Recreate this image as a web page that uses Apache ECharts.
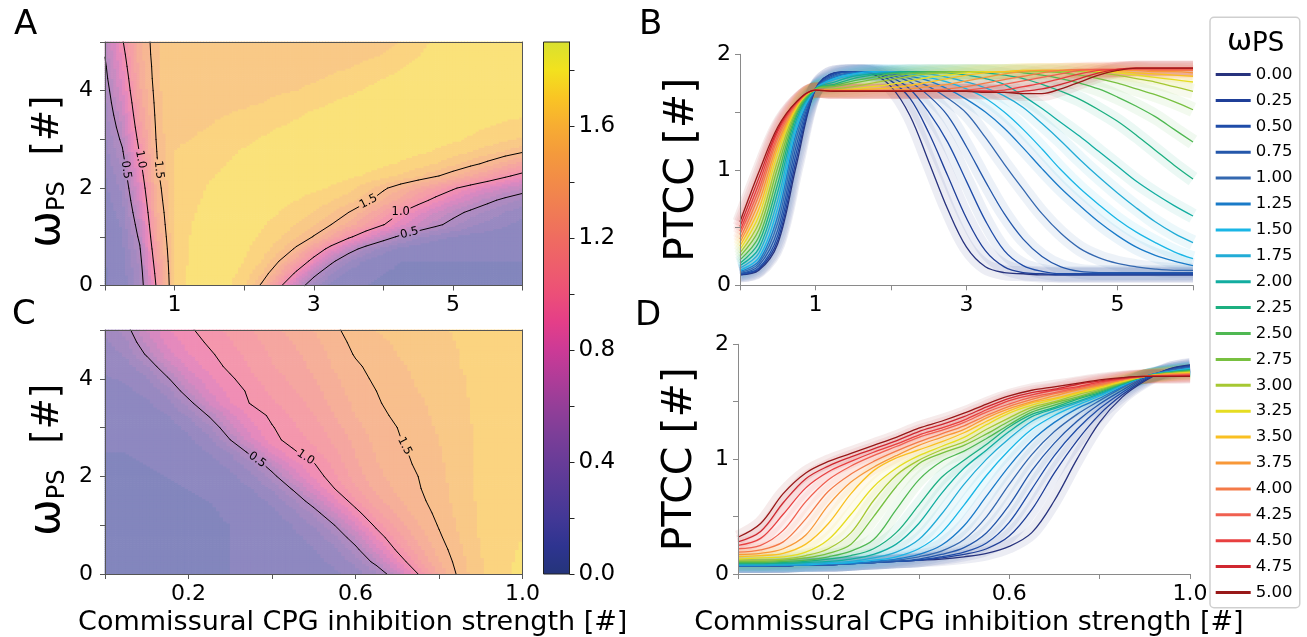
<!DOCTYPE html>
<html><head><meta charset="utf-8">
<script src="https://cdn.jsdelivr.net/npm/echarts@6/dist/echarts.min.js"></script>
<style>html,body{margin:0;padding:0;background:#fff}#c{width:1307px;height:637px}</style>
</head><body><div id="c"></div>
<script>
// ---------------- DATA ----------------
const omegas = [0,0.25,0.5,0.75,1,1.25,1.5,1.75,2,2.25,2.5,2.75,3,3.25,3.5,3.75,4,4.25,4.5,4.75,5];
const omegaLabels = ['0.00','0.25','0.50','0.75','1.00','1.25','1.50','1.75','2.00','2.25','2.50','2.75','3.00','3.25','3.50','3.75','4.00','4.25','4.50','4.75','5.00'];
const xB = [0,0.25,0.5,0.75,1,1.25,1.5,1.75,2,2.25,2.5,2.75,3,3.25,3.5,3.75,4,4.25,4.5,4.75,5,5.25,5.5,5.75,6];
const xD = [0,0.05,0.1,0.15,0.2,0.25,0.3,0.35,0.4,0.45,0.5,0.55,0.6,0.65,0.7,0.75,0.8,0.85,0.9,0.95,1];
// PTCC, panel B / A (rows = omega, cols = xB)
const ptccB = [
[0.09,0.13,0.36,1.05,1.70,1.84,1.85,1.83,1.72,1.47,1.07,0.66,0.33,0.16,0.11,0.10,0.09,0.09,0.09,0.09,0.09,0.09,0.09,0.09,0.09],
[0.09,0.14,0.39,1.10,1.70,1.84,1.85,1.84,1.77,1.62,1.32,0.95,0.58,0.30,0.16,0.11,0.10,0.09,0.09,0.09,0.09,0.09,0.09,0.09,0.09],
[0.10,0.15,0.43,1.16,1.70,1.83,1.85,1.84,1.80,1.70,1.50,1.24,0.90,0.56,0.30,0.17,0.12,0.10,0.10,0.10,0.10,0.10,0.10,0.10,0.10],
[0.10,0.17,0.48,1.22,1.70,1.82,1.85,1.85,1.82,1.76,1.64,1.47,1.20,0.90,0.62,0.40,0.25,0.16,0.12,0.11,0.11,0.11,0.11,0.11,0.11],
[0.11,0.19,0.54,1.28,1.70,1.81,1.84,1.85,1.83,1.79,1.72,1.62,1.49,1.28,1.05,0.83,0.62,0.45,0.32,0.24,0.19,0.16,0.14,0.13,0.13],
[0.12,0.21,0.60,1.33,1.70,1.80,1.84,1.85,1.84,1.81,1.77,1.70,1.61,1.50,1.36,1.19,1.01,0.84,0.69,0.55,0.43,0.33,0.26,0.21,0.17],
[0.13,0.24,0.67,1.37,1.70,1.79,1.83,1.85,1.85,1.83,1.80,1.76,1.70,1.62,1.50,1.35,1.18,1.00,0.84,0.70,0.57,0.46,0.37,0.29,0.23],
[0.15,0.28,0.74,1.41,1.70,1.78,1.82,1.84,1.85,1.85,1.83,1.80,1.76,1.71,1.64,1.54,1.40,1.25,1.09,0.94,0.80,0.67,0.55,0.45,0.37],
[0.17,0.32,0.81,1.44,1.70,1.76,1.81,1.83,1.84,1.85,1.85,1.84,1.82,1.79,1.74,1.64,1.53,1.41,1.29,1.16,1.03,0.90,0.79,0.69,0.60],
[0.19,0.37,0.88,1.47,1.70,1.74,1.79,1.82,1.84,1.85,1.85,1.85,1.85,1.84,1.82,1.79,1.74,1.68,1.61,1.52,1.42,1.30,1.17,1.04,0.92],
[0.22,0.42,0.95,1.49,1.70,1.73,1.77,1.80,1.83,1.84,1.85,1.85,1.85,1.85,1.85,1.84,1.82,1.79,1.75,1.70,1.63,1.55,1.46,1.35,1.24],
[0.25,0.48,1.02,1.51,1.70,1.72,1.75,1.78,1.81,1.83,1.84,1.85,1.85,1.85,1.85,1.85,1.85,1.84,1.82,1.79,1.75,1.70,1.65,1.59,1.52],
[0.28,0.54,1.08,1.53,1.69,1.70,1.72,1.75,1.78,1.81,1.83,1.84,1.85,1.85,1.85,1.85,1.85,1.85,1.85,1.84,1.82,1.79,1.76,1.72,1.68],
[0.31,0.60,1.14,1.54,1.69,1.69,1.70,1.72,1.74,1.77,1.80,1.82,1.84,1.85,1.85,1.86,1.86,1.86,1.86,1.85,1.84,1.82,1.80,1.78,1.76],
[0.34,0.66,1.19,1.55,1.69,1.69,1.69,1.70,1.71,1.73,1.76,1.79,1.82,1.84,1.85,1.86,1.86,1.86,1.86,1.86,1.85,1.84,1.83,1.82,1.81],
[0.37,0.72,1.23,1.56,1.69,1.69,1.69,1.69,1.69,1.70,1.72,1.74,1.77,1.80,1.83,1.85,1.86,1.86,1.86,1.86,1.86,1.86,1.85,1.85,1.84],
[0.40,0.78,1.27,1.57,1.69,1.69,1.68,1.68,1.68,1.68,1.69,1.70,1.72,1.75,1.78,1.81,1.84,1.86,1.87,1.87,1.87,1.87,1.86,1.86,1.86],
[0.44,0.83,1.30,1.58,1.69,1.68,1.68,1.68,1.68,1.68,1.68,1.68,1.69,1.71,1.74,1.77,1.80,1.83,1.86,1.87,1.87,1.87,1.87,1.87,1.87],
[0.47,0.88,1.33,1.58,1.69,1.68,1.68,1.68,1.68,1.68,1.68,1.68,1.68,1.68,1.69,1.72,1.75,1.79,1.83,1.86,1.87,1.88,1.88,1.88,1.88],
[0.51,0.93,1.35,1.59,1.69,1.68,1.68,1.68,1.68,1.68,1.68,1.68,1.68,1.68,1.67,1.68,1.70,1.74,1.79,1.84,1.87,1.88,1.88,1.88,1.88],
[0.55,0.98,1.37,1.59,1.69,1.68,1.68,1.68,1.68,1.68,1.68,1.68,1.68,1.67,1.67,1.66,1.66,1.70,1.76,1.82,1.86,1.88,1.88,1.88,1.88]
];
// PTCC, panel D / C (rows = omega, cols = xD)
const ptccD = [
[0.07,0.07,0.07,0.08,0.08,0.09,0.10,0.11,0.12,0.13,0.15,0.18,0.24,0.36,0.64,1.00,1.32,1.54,1.68,1.78,1.82],
[0.07,0.07,0.07,0.08,0.08,0.09,0.10,0.11,0.12,0.14,0.17,0.22,0.33,0.56,0.88,1.16,1.39,1.56,1.69,1.78,1.815],
[0.07,0.07,0.07,0.08,0.08,0.09,0.10,0.11,0.12,0.15,0.19,0.27,0.45,0.74,1.03,1.26,1.44,1.58,1.70,1.77,1.81],
[0.07,0.07,0.07,0.08,0.08,0.09,0.10,0.11,0.13,0.17,0.23,0.36,0.60,0.90,1.14,1.33,1.48,1.60,1.71,1.77,1.80],
[0.07,0.07,0.07,0.08,0.08,0.09,0.10,0.12,0.15,0.20,0.30,0.50,0.78,1.04,1.24,1.39,1.51,1.62,1.72,1.77,1.80],
[0.07,0.07,0.08,0.08,0.09,0.09,0.11,0.13,0.17,0.25,0.42,0.68,0.94,1.16,1.32,1.44,1.53,1.63,1.72,1.76,1.79],
[0.08,0.08,0.08,0.08,0.09,0.10,0.12,0.15,0.22,0.36,0.60,0.86,1.08,1.26,1.38,1.47,1.55,1.64,1.72,1.76,1.79],
[0.08,0.08,0.08,0.09,0.10,0.11,0.14,0.19,0.30,0.52,0.78,1.00,1.18,1.33,1.42,1.49,1.56,1.645,1.72,1.76,1.785],
[0.09,0.09,0.09,0.10,0.11,0.13,0.17,0.26,0.44,0.70,0.92,1.08,1.24,1.37,1.44,1.50,1.57,1.65,1.72,1.755,1.78],
[0.09,0.09,0.10,0.11,0.13,0.16,0.22,0.36,0.60,0.84,0.99,1.13,1.28,1.39,1.45,1.52,1.58,1.655,1.72,1.75,1.775],
[0.10,0.10,0.11,0.12,0.15,0.20,0.30,0.56,0.82,0.98,1.07,1.18,1.30,1.41,1.47,1.53,1.59,1.66,1.72,1.75,1.77],
[0.11,0.11,0.12,0.14,0.18,0.26,0.50,0.76,0.96,1.05,1.12,1.22,1.33,1.43,1.49,1.54,1.60,1.665,1.72,1.75,1.765],
[0.12,0.12,0.13,0.16,0.22,0.36,0.64,0.86,0.99,1.08,1.15,1.26,1.36,1.45,1.50,1.56,1.61,1.67,1.72,1.74,1.76],
[0.13,0.14,0.15,0.19,0.30,0.52,0.76,0.92,1.03,1.11,1.19,1.30,1.40,1.47,1.52,1.57,1.62,1.675,1.72,1.74,1.755],
[0.15,0.16,0.18,0.26,0.44,0.70,0.90,1.01,1.08,1.15,1.23,1.33,1.42,1.49,1.53,1.58,1.63,1.68,1.72,1.74,1.75],
[0.17,0.18,0.22,0.34,0.60,0.80,0.93,1.03,1.12,1.19,1.26,1.36,1.44,1.50,1.55,1.60,1.64,1.69,1.72,1.74,1.745],
[0.19,0.21,0.28,0.48,0.72,0.87,0.98,1.07,1.15,1.22,1.29,1.38,1.46,1.52,1.57,1.61,1.65,1.69,1.72,1.73,1.74],
[0.22,0.25,0.38,0.63,0.82,0.94,1.03,1.11,1.19,1.25,1.32,1.41,1.48,1.54,1.58,1.62,1.66,1.70,1.72,1.73,1.735],
[0.25,0.31,0.52,0.75,0.89,0.98,1.06,1.13,1.21,1.27,1.34,1.43,1.51,1.56,1.60,1.63,1.67,1.70,1.72,1.725,1.73],
[0.28,0.37,0.62,0.83,0.94,1.02,1.09,1.16,1.24,1.30,1.37,1.455,1.53,1.58,1.61,1.65,1.68,1.705,1.72,1.72,1.725],
[0.32,0.44,0.70,0.88,0.98,1.05,1.12,1.19,1.27,1.33,1.40,1.48,1.55,1.60,1.63,1.66,1.69,1.71,1.72,1.72,1.72]
];
const contourLevels = [0.5, 1.0, 1.5];
// tick labels
const xLabelsA = [1,3,5];
const yLabelsA = [0,2,4];
const xLabelsC = [0.2,0.6,1.0];
const yLabelsB = [0,1,2];
const cbLabels = [0.0,0.4,0.8,1.2,1.6];
const cbTicks = [0,0.2,0.4,0.6,0.8,1.0,1.2,1.4,1.6,1.8];
const xTitle = 'Commissural CPG inhibition strength [#]';

// ---------------- STYLE ----------------
const FONT = 'DejaVu Sans';
const lineColors = ['#28337e','#1f3f98','#1f4ca8','#2457aa','#3468b0','#1a7bc8','#1ab6e6','#22acd6','#12ada0','#1caf80','#4fb852','#78c040','#a6c833','#e6dd22','#f9c022','#f89838','#f47a48','#f06050','#e84040','#d02830','#981818'];
const cbStops = ['#24347a','#2e3490','#423896','#553a97','#683c98','#7c3e98','#943e98','#b03c98','#cc3a96','#e43e88','#ec4f78','#ee5e6c','#ef6c60','#f07c54','#f28b48','#f49a3c','#f7ad32','#f9c524','#f2e21e','#d8e030'];
const CB_MAX = 1.9;
const HEAT_ALPHA = 0.6, LEVEL_STEP = 0.1, SUB = 6, LABEL_GAP = 11;
const HEAT_OFFSET = 0.07, HEAT_SCALE = 0.9;

function hex2rgb(h){return [parseInt(h.slice(1,3),16),parseInt(h.slice(3,5),16),parseInt(h.slice(5,7),16)];}
const cbRGB = cbStops.map(hex2rgb);
function cmapRGB(v){const n=cbRGB.length-1;const t=Math.max(0,Math.min(1,v/CB_MAX))*n;const i=Math.min(n-1,Math.floor(t));const f=t-i;const a=cbRGB[i],b=cbRGB[i+1];return [0,1,2].map(k=>a[k]+(b[k]-a[k])*f);}
const heatCache={};
function heatColor(v){const k=Math.floor(v/LEVEL_STEP+1e-9);if(heatCache[k])return heatCache[k];const c=cmapRGB(HEAT_OFFSET+HEAT_SCALE*(k+0.5)*LEVEL_STEP);const m=c.map(x=>Math.round(x*HEAT_ALPHA+255*(1-HEAT_ALPHA)));return heatCache[k]='rgb('+m.join(',')+')';}

function buildCells(xs,ys,g){const out=[];for(let r=0;r<ys.length-1;r++)for(let i=0;i<xs.length-1;i++)out.push([xs[i],ys[r],xs[i+1],ys[r+1],g[r][i],g[r][i+1],g[r+1][i],g[r+1][i+1]]);return out;}
function renderHeat(params,api){
  const x0=api.value(0),y0=api.value(1),x1=api.value(2),y1=api.value(3);
  const v00=api.value(4),v10=api.value(5),v01=api.value(6),v11=api.value(7);
  const p0=api.coord([x0,y0]),p1=api.coord([x1,y1]);
  const w=(p1[0]-p0[0])/SUB,h=(p0[1]-p1[1])/SUB;const ch=[];
  for(let a=0;a<SUB;a++)for(let b=0;b<SUB;b++){
    const u=(a+0.5)/SUB,t=(b+0.5)/SUB;
    const v=v00*(1-u)*(1-t)+v10*u*(1-t)+v01*(1-u)*t+v11*u*t;
    ch.push({type:'rect',shape:{x:p0[0]+a*w-0.35,y:p0[1]-(b+1)*h-0.35,width:w+0.7,height:h+0.7},style:{fill:heatColor(v)}});
  }
  return {type:'group',children:ch};
}
function buildContours(xs,ys,g,levels){
  const segs=[];
  levels.forEach(L=>{
    for(let r=0;r<ys.length-1;r++)for(let i=0;i<xs.length-1;i++){
      const v=[g[r][i],g[r][i+1],g[r+1][i+1],g[r+1][i]];
      const P=[[xs[i],ys[r]],[xs[i+1],ys[r]],[xs[i+1],ys[r+1]],[xs[i],ys[r+1]]];
      const pts=[];
      for(let e=0;e<4;e++){const a=e,b=(e+1)%4;if((v[a]>=L)!==(v[b]>=L)){const t=(L-v[a])/(v[b]-v[a]);pts.push([P[a][0]+t*(P[b][0]-P[a][0]),P[a][1]+t*(P[b][1]-P[a][1])]);}}
      if(pts.length===2)segs.push([pts[0][0],pts[0][1],pts[1][0],pts[1][1],L]);
      else if(pts.length===4){const c=(v[0]+v[1]+v[2]+v[3])/4;
        if((c>=L)===(v[0]>=L)){segs.push([pts[0][0],pts[0][1],pts[1][0],pts[1][1],L]);segs.push([pts[2][0],pts[2][1],pts[3][0],pts[3][1],L]);}
        else{segs.push([pts[0][0],pts[0][1],pts[3][0],pts[3][1],L]);segs.push([pts[1][0],pts[1][1],pts[2][0],pts[2][1],L]);}}
    }
  });
  return segs;
}
function placeLabels(segs,anchors,sx,sy){
  return anchors.map(a=>{let best=null,bd=1e18;segs.forEach(s=>{if(s[4]!==a[2])return;const mx=(s[0]+s[2])/2,my=(s[1]+s[3])/2;const d=((mx-a[0])*sx)**2+((my-a[1])*sy)**2;if(d<bd){bd=d;best=s;}});
    return [(best[0]+best[2])/2,(best[1]+best[3])/2,best[2]-best[0],best[3]-best[1],a[2]];});
}
function makeSegRender(labels){
  return function(params,api){
    const p=api.coord([api.value(0),api.value(1)]),q=api.coord([api.value(2),api.value(3)]);const lvl=api.value(4);
    const dx=q[0]-p[0],dy=q[1]-p[1];let pieces=[[0,1]];
    labels.forEach(l=>{if(Math.abs(l[4]-lvl)>1e-6)return;const c=api.coord([l[0],l[1]]);
      const fx=p[0]-c[0],fy=p[1]-c[1];const A=dx*dx+dy*dy;if(A<1e-9)return;const B=2*(fx*dx+fy*dy);const C=fx*fx+fy*fy-LABEL_GAP*LABEL_GAP;const disc=B*B-4*A*C;if(disc<=0)return;
      const s=Math.sqrt(disc);const t1=(-B-s)/(2*A),t2=(-B+s)/(2*A);
      pieces=pieces.flatMap(([a,b])=>{const res=[];if(t1>a)res.push([a,Math.min(b,t1)]);if(t2<b)res.push([Math.max(a,t2),b]);return res.filter(r=>r[1]>r[0]);});});
    return {type:'group',children:pieces.map(([a,b])=>({type:'line',shape:{x1:p[0]+dx*a,y1:p[1]+dy*a,x2:p[0]+dx*b,y2:p[1]+dy*b},style:{stroke:'#000',lineWidth:1,lineCap:'round'}}))};
  };
}
function renderLabel(params,api){
  const x=api.value(0),y=api.value(1),dx=api.value(2),dy=api.value(3);
  const c=api.coord([x,y]),c2=api.coord([x+dx,y+dy]);
  let ang=Math.atan2(-(c2[1]-c[1]),c2[0]-c[0]);if(ang>Math.PI/2)ang-=Math.PI;if(ang<-Math.PI/2)ang+=Math.PI;
  return {type:'text',x:c[0],y:c[1],rotation:ang,style:{text:api.value(4).toFixed(1),fontSize:11.5,fontFamily:FONT,fill:'#000',align:'center',verticalAlign:'middle'}};
}

// grids (layout)
const G = {
  A:{left:105,top:42,width:417.5,height:243.5},
  C:{left:105,top:330,width:417.5,height:244},
  B:{left:740,top:54.3,width:453,height:231},
  D:{left:738,top:344.3,width:452,height:229.7},
  CB:{left:543.5,top:42,width:26,height:532}
};
const cellsA = buildCells(xB, omegas, ptccB);
const cellsC = buildCells(xD, omegas, ptccD);
const segA = buildContours(xB, omegas, ptccB, contourLevels);
const segC = buildContours(xD, omegas, ptccD, contourLevels);
const labA = placeLabels(segA, [[0.27,2.3,0.5],[0.48,2.5,1.0],[0.78,2.26,1.5],[3.79,1.71,1.5],[4.2,1.47,1.0],[4.39,1.17,0.5]], G.A.width/6, G.A.height/5);
const labC = placeLabels(segC, [[0.363,2.27,0.5],[0.463,2.2,1.0],[0.702,2.51,1.5]], G.C.width/1, G.C.height/5);

const lbl = {fontSize:22,fontFamily:FONT,color:'#000'};
function fmt(labels,d){return v=>labels.some(l=>Math.abs(l-v)<1e-6)?(d?Number(v).toFixed(d):String(Math.round(v))):'';}
const frameLine = {onZero:false,lineStyle:{color:'#555',width:1}};
const plotLine = {onZero:false,lineStyle:{color:'#8a8a8a',width:1}};
function gridOf(o){return Object.assign({outerBoundsMode:'none',containLabel:false,show:false},o);}
const yNameA = {name:'{w|ω}{s|PS}{g| [#]}',nameLocation:'middle',nameRotate:90,nameGap:35,nameMoveOverlap:false,
  nameTextStyle:{color:'#000',padding:[0,16,0,0],rich:{w:{fontSize:44,fontFamily:FONT,color:'#000'},s:{fontSize:24,fontFamily:FONT,color:'#000',verticalAlign:'bottom',padding:[0,14,0,0]},g:{fontSize:37,fontFamily:FONT,color:'#000'}}}};
const yNameB = {name:'PTCC [#]',nameLocation:'middle',nameRotate:90,nameGap:37,nameMoveOverlap:false,nameTextStyle:{fontSize:41,fontFamily:FONT,color:'#000'}};
function xName(shift){return {name:xTitle,nameLocation:'middle',nameGap:35,nameMoveOverlap:false,nameTextStyle:{fontSize:27,fontFamily:FONT,color:'#000',padding:[0,0,0,shift]}};}

const series = [];
series.push({type:'custom',name:'heatA',xAxisIndex:0,yAxisIndex:0,data:cellsA,renderItem:renderHeat,encode:{x:[0,2],y:[1,3]},silent:true,z:1});
series.push({type:'custom',name:'heatC',xAxisIndex:2,yAxisIndex:2,data:cellsC,renderItem:renderHeat,encode:{x:[0,2],y:[1,3]},silent:true,z:1});
series.push({type:'custom',name:'contA',xAxisIndex:0,yAxisIndex:0,data:segA,renderItem:makeSegRender(labA),encode:{x:[0,2],y:[1,3]},silent:true,z:3});
series.push({type:'custom',name:'contC',xAxisIndex:2,yAxisIndex:2,data:segC,renderItem:makeSegRender(labC),encode:{x:[0,2],y:[1,3]},silent:true,z:3});
series.push({type:'custom',name:'labA',xAxisIndex:0,yAxisIndex:0,data:labA,renderItem:renderLabel,encode:{x:0,y:1},silent:true,z:4});
series.push({type:'custom',name:'labC',xAxisIndex:2,yAxisIndex:2,data:labC,renderItem:renderLabel,encode:{x:0,y:1},silent:true,z:4});
series.push({type:'custom',name:'cbar',xAxisIndex:6,yAxisIndex:6,data:[[0,0,1,CB_MAX]],encode:{x:[0,2],y:[1,3]},silent:true,
  renderItem:(p,api)=>{const a=api.coord([0,0]),b=api.coord([1,CB_MAX]);return {type:'rect',shape:{x:a[0],y:b[1],width:b[0]-a[0],height:a[1]-b[1]},
    style:{fill:new echarts.graphic.LinearGradient(0,1,0,0,cbStops.map((c,i)=>({offset:i/(cbStops.length-1),color:c}))),stroke:'#222',lineWidth:1}};}});
const SMOOTH = 0.35;
omegas.forEach((w,r)=>{
  series.push({type:'line',name:'bandB'+r,xAxisIndex:4,yAxisIndex:4,data:xB.map((x,i)=>[x,ptccB[r][i]]),showSymbol:false,smooth:SMOOTH,silent:true,z:1,
    lineStyle:{color:lineColors[r],width:15,opacity:0.085,cap:'butt',join:'round'}});
  series.push({type:'line',name:'bandD'+r,xAxisIndex:5,yAxisIndex:5,data:xD.map((x,i)=>[x,ptccD[r][i]]),showSymbol:false,smooth:SMOOTH,silent:true,z:1,
    lineStyle:{color:lineColors[r],width:14,opacity:0.085,cap:'butt',join:'round'}});
});
omegas.forEach((w,r)=>{
  series.push({type:'line',name:omegaLabels[r],xAxisIndex:4,yAxisIndex:4,data:xB.map((x,i)=>[x,ptccB[r][i]]),showSymbol:false,smooth:SMOOTH,z:2,
    itemStyle:{color:lineColors[r]},lineStyle:{color:lineColors[r],width:1.3}});
});
omegas.forEach((w,r)=>{
  series.push({type:'line',name:omegaLabels[r],xAxisIndex:5,yAxisIndex:5,data:xD.map((x,i)=>[x,ptccD[r][i]]),showSymbol:false,smooth:SMOOTH,z:2,
    itemStyle:{color:lineColors[r]},lineStyle:{color:lineColors[r],width:1.3}});
});

const option = {
  animation:false,
  backgroundColor:'#fff',
  grid:[gridOf(G.A),gridOf(G.C),gridOf(G.B),gridOf(G.D),gridOf(G.CB)],
  xAxis:[
    {gridIndex:0,type:'value',min:0,max:6,interval:1,z:10,axisLine:frameLine,axisTick:{length:5,lineStyle:{color:'#555'}},axisLabel:Object.assign({formatter:fmt(xLabelsA,0),margin:9},lbl),splitLine:{show:false}},
    {gridIndex:0,type:'value',position:'top',min:0,max:6,z:10,axisLine:frameLine,axisTick:{show:false},axisLabel:{show:false},splitLine:{show:false}},
    Object.assign({gridIndex:1,type:'value',min:0,max:1,interval:0.2,z:10,axisLine:frameLine,axisTick:{length:5,lineStyle:{color:'#555'}},axisLabel:Object.assign({formatter:fmt(xLabelsC,1),margin:9},lbl),splitLine:{show:false}},xName(78)),
    {gridIndex:1,type:'value',position:'top',min:0,max:1,z:10,axisLine:frameLine,axisTick:{show:false},axisLabel:{show:false},splitLine:{show:false}},
    {gridIndex:2,type:'value',min:0,max:6,interval:1,z:10,axisLine:plotLine,axisTick:{length:5,lineStyle:{color:'#8a8a8a'}},axisLabel:Object.assign({formatter:fmt(xLabelsA,0),margin:9},lbl),splitLine:{show:false}},
    Object.assign({gridIndex:3,type:'value',min:0,max:1,interval:0.2,z:10,axisLine:plotLine,axisTick:{length:5,lineStyle:{color:'#8a8a8a'}},axisLabel:Object.assign({formatter:fmt(xLabelsC,1),margin:9},lbl),splitLine:{show:false}},xName(10)),
    {gridIndex:4,type:'value',min:0,max:1,show:false}
  ],
  yAxis:[
    Object.assign({gridIndex:0,type:'value',min:0,max:5,interval:1,z:10,axisLine:frameLine,axisTick:{length:5,lineStyle:{color:'#555'}},axisLabel:Object.assign({formatter:fmt(yLabelsA,0),margin:12},lbl),splitLine:{show:false}},yNameA),
    {gridIndex:0,type:'value',position:'right',min:0,max:5,z:10,axisLine:frameLine,axisTick:{show:false},axisLabel:{show:false},splitLine:{show:false}},
    Object.assign({gridIndex:1,type:'value',min:0,max:5,interval:1,z:10,axisLine:frameLine,axisTick:{length:5,lineStyle:{color:'#555'}},axisLabel:Object.assign({formatter:fmt(yLabelsA,0),margin:12},lbl),splitLine:{show:false}},yNameA),
    {gridIndex:1,type:'value',position:'right',min:0,max:5,z:10,axisLine:frameLine,axisTick:{show:false},axisLabel:{show:false},splitLine:{show:false}},
    Object.assign({gridIndex:2,type:'value',min:0,max:2,interval:0.5,z:10,axisLine:plotLine,axisTick:{length:5,lineStyle:{color:'#8a8a8a'}},axisLabel:Object.assign({formatter:fmt(yLabelsB,0),margin:9},lbl),splitLine:{show:false}},yNameB),
    Object.assign({gridIndex:3,type:'value',min:0,max:2,interval:0.5,z:10,axisLine:plotLine,axisTick:{length:5,lineStyle:{color:'#8a8a8a'}},axisLabel:Object.assign({formatter:fmt(yLabelsB,0),margin:9},lbl),splitLine:{show:false}},yNameB),
    {gridIndex:4,type:'value',position:'right',min:0,max:CB_MAX,interval:0.2,z:10,axisLine:{onZero:false,lineStyle:{color:'#222'}},
      axisTick:{length:5,lineStyle:{color:'#222'},customValues:cbTicks},
      axisLabel:Object.assign({formatter:v=>(cbLabels.some(l=>Math.abs(l-v)<1e-6)?Number(v).toFixed(1):''),customValues:cbLabels,margin:9},lbl,{fontSize:23}),splitLine:{show:false}}
  ],
  legend:{data:omegaLabels,orient:'vertical',left:1210,top:17.3,itemWidth:35,itemHeight:3,itemGap:8.9,icon:'rect',
    padding:[48.7,7.3,6.7,5.7],backgroundColor:'#fff',borderColor:'#cfcfcf',borderWidth:1.5,borderRadius:4,selectedMode:false,
    textStyle:{fontSize:16.5,fontFamily:FONT,color:'#000'}},
  graphic:[
    {type:'text',x:14,y:25.5,style:{text:'A',fontSize:34,fontFamily:FONT,fill:'#000',verticalAlign:'middle'}},
    {type:'text',x:639,y:25.5,style:{text:'B',fontSize:34,fontFamily:FONT,fill:'#000',verticalAlign:'middle'}},
    {type:'text',x:12,y:315.5,style:{text:'C',fontSize:34,fontFamily:FONT,fill:'#000',verticalAlign:'middle'}},
    {type:'text',x:635,y:316,style:{text:'D',fontSize:34,fontFamily:FONT,fill:'#000',verticalAlign:'middle'}},
    {type:'text',x:1227,y:42,z:100,style:{text:'{w|ω}{s|PS}',verticalAlign:'middle',rich:{w:{fontSize:30,fontFamily:FONT,fill:'#000'},s:{fontSize:26,fontFamily:FONT,fill:'#000',verticalAlign:'bottom'}}}}
  ],
  series:series
};
const chart = echarts.init(document.getElementById('c'),null,{renderer:'canvas'});
chart.setOption(option);
</script>
</body></html>
